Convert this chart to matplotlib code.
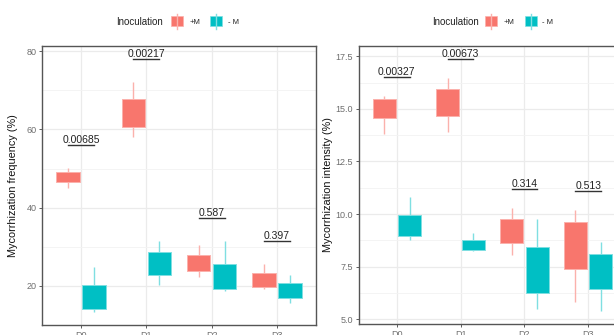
import matplotlib
matplotlib.use("Agg")
import matplotlib.pyplot as plt
from matplotlib.patches import Rectangle
from matplotlib.lines import Line2D
import numpy as np

plt.rcParams['font.family'] = ['Liberation Sans', 'DejaVu Sans']

days = ["D0", "D1", "D2", "D3"]
groups = ["+M", "- M"]
colors = ["#F8766D", "#00BFC4"]
light = ["#FBB1AC", "#7FDFE1"]

# Mycorrhization frequency (%): whisker low, box low, box high, whisker high
freq_pm_lo = [45.1, 58.1, 22.3, 19.1]
freq_pm_q1 = [46.5, 60.5, 23.8, 19.6]
freq_pm_q3 = [49.2, 67.7, 28.0, 23.2]
freq_pm_hi = [50.2, 72.2, 30.5, 25.5]
freq_nm_lo = [13.4, 20.2, 18.7, 15.5]
freq_nm_q1 = [14.2, 22.7, 19.2, 16.9]
freq_nm_q3 = [20.2, 28.6, 25.6, 20.8]
freq_nm_hi = [24.9, 31.4, 31.4, 22.9]
freq_p = ["0.00685", "0.00217", "0.587", "0.397"]

# Mycorrhization intensity (%)
int_pm_lo = [13.79, 13.90, 8.05, 5.83]
int_pm_q1 = [14.55, 14.66, 8.63, 7.41]
int_pm_q3 = [15.47, 15.95, 9.76, 9.61]
int_pm_hi = [15.63, 16.47, 10.31, 10.18]
int_nm_lo = [8.79, 8.25, 5.47, 5.39]
int_nm_q1 = [8.95, 8.28, 6.27, 6.43]
int_nm_q3 = [9.98, 8.76, 8.44, 8.09]
int_nm_hi = [10.79, 9.11, 9.79, 8.68]
int_p = ["0.00327", "0.00673", "0.314", "0.513"]

W, H = 614, 335
fig = plt.figure(figsize=(W / 100, H / 100), dpi=100)


def px_axes(x0, x1, ytop, ybot):
    return fig.add_axes([x0 / W, (H - ybot) / H, (x1 - x0) / W, (ybot - ytop) / H])


def panel(ax, series, pvals, ylim, yticks, minor, ylabel, offset):
    x = np.arange(len(days))
    dodge = 0.2
    bw = 0.36
    tops = []
    for k, (lo, q1, q3, hi) in enumerate(series):
        xs = x + (-dodge if k == 0 else dodge)
        ax.vlines(xs, lo, hi, color=light[k], lw=1.0, zorder=2)
        ax.bar(xs, np.array(q3) - np.array(q1), bottom=q1, width=bw,
               color=colors[k], edgecolor=light[k], lw=0.7, zorder=3)
        tops.append(hi)
    top = np.maximum(tops[0], tops[1])
    for i, p in enumerate(pvals):
        yb = top[i] + offset
        ax.plot([x[i] - dodge, x[i] + dodge], [yb, yb], color="#333333", lw=1.0, zorder=4)
        ax.text(x[i], yb, p, ha="center", va="bottom", fontsize=7.5, color="#222222")
    ax.set_xlim(-0.6, 3.6)
    ax.set_ylim(*ylim)
    ax.set_xticks(x)
    ax.set_xticklabels(days)
    ax.set_yticks(yticks)
    ax.set_yticks(minor, minor=True)
    ax.grid(True, which="major", color="#EBEBEB", lw=0.9, zorder=0)
    ax.grid(True, which="minor", axis="y", color="#F3F3F3", lw=0.6, zorder=0)
    ax.set_axisbelow(True)
    ax.tick_params(axis="both", which="major", labelsize=6.5, labelcolor="#6E6E6E",
                   color="#444444", length=2.5, width=0.6, pad=1.5)
    ax.tick_params(axis="y", which="minor", length=0)
    for s in ax.spines.values():
        s.set_color("#555555")
        s.set_linewidth(1.0)
    ax.set_ylabel(ylabel, fontsize=7.8, color="#111111", labelpad=0)


ax1 = px_axes(42, 316, 45.7, 325)
panel(ax1,
      [(freq_pm_lo, freq_pm_q1, freq_pm_q3, freq_pm_hi),
       (freq_nm_lo, freq_nm_q1, freq_nm_q3, freq_nm_hi)],
      freq_p, (10.0, 81.4), [20, 40, 60, 80], [10, 30, 50, 70],
      "Mycorrhization frequency (%)", 5.85)

ax2 = px_axes(358.5, 626.5, 45.7, 324)
panel(ax2,
      [(int_pm_lo, int_pm_q1, int_pm_q3, int_pm_hi),
       (int_nm_lo, int_nm_q1, int_nm_q3, int_nm_hi)],
      int_p, (4.78, 18.0), [5.0, 7.5, 10.0, 12.5, 15.0, 17.5],
      [6.25, 8.75, 11.25, 13.75, 16.25],
      "Mycorrhization intensity (%)", 0.9)
ax2.yaxis.set_major_formatter(matplotlib.ticker.FormatStrFormatter("%.1f"))
ax2.yaxis.set_label_coords(-25.5 / 268, 0.5)
ax1.yaxis.set_label_coords(-23.5 / 274, 0.5)


def legend(title_right, keys_x, labels_x):
    yc = 21
    fig.text(title_right / W, (H - yc) / H, "Inoculation", ha="right", va="center_baseline",
             fontsize=7, color="#222222")
    for k in range(2):
        kx = keys_x[k]
        fig.add_artist(Line2D([(kx + 6) / W] * 2, [(H - yc - 8) / H, (H - yc + 7) / H],
                              color=light[k], lw=1.0))
        fig.add_artist(Rectangle((kx / W, (H - yc - 4.5) / H), 12 / W, 9 / H,
                                 facecolor=colors[k], edgecolor=light[k], lw=0.5))
        fig.text(labels_x[k] / W, (H - yc) / H, groups[k], ha="left", va="center_baseline",
                 fontsize=5.5, color="#222222")


legend(163, [171, 210], [190, 228])
legend(478.5, [485, 524.5], [503.5, 542])

fig.savefig("out.png", dpi=100)
